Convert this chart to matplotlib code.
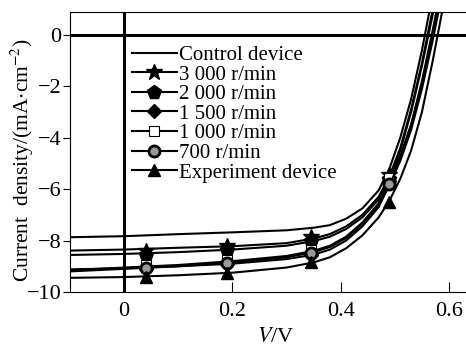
import numpy as np
import matplotlib
matplotlib.use("Agg")
from matplotlib import pyplot as plt

# J-V curves
volts = [-0.1, 0.0, 0.1, 0.2, 0.3, 0.35, 0.38, 0.41, 0.44, 0.47, 0.49, 0.51, 0.53, 0.55, 0.57, 0.59]
j_control = [-7.87, -7.83, -7.75, -7.68, -7.60, -7.50, -7.40, -7.15, -6.75, -6.05, -5.2, -4.0, -2.5, -0.6, 1.6, 3.5]
j_3000 = [-8.39, -8.35, -8.28, -8.22, -8.10, -7.92, -7.75, -7.45, -7.0, -6.3, -5.5, -4.4, -2.9, -1.1, 1.0, 3.0]
j_2000 = [-8.56, -8.52, -8.45, -8.35, -8.20, -8.02, -7.85, -7.55, -7.1, -6.4, -5.6, -4.5, -3.0, -1.2, 0.8, 2.8]
j_1500 = [-9.12, -9.08, -9.00, -8.90, -8.72, -8.55, -8.35, -8.0, -7.45, -6.7, -5.8, -4.8, -3.5, -1.8, 0.2, 2.3]
j_1000 = [-9.15, -9.05, -8.95, -8.80, -8.60, -8.40, -8.20, -7.85, -7.3, -6.55, -5.6, -4.7, -3.5, -1.9, 0.0, 2.1]
j_700 = [-9.20, -9.10, -9.00, -8.85, -8.65, -8.45, -8.25, -7.9, -7.4, -6.65, -5.85, -4.9, -3.7, -2.1, -0.2, 1.9]
j_exp = [-9.45, -9.42, -9.35, -9.25, -9.05, -8.85, -8.65, -8.3, -7.8, -7.1, -6.45, -5.6, -4.5, -3.0, -1.0, 1.2]

# marker positions
mark_v = [0.04, 0.19, 0.345, 0.49]
m_3000 = [-8.40, -8.22, -7.85, -5.45]
m_2000 = [-8.55, -8.35, -8.00, -5.60]
m_1500 = [-9.10, -8.90, -8.55, -5.70]
m_1000 = [-8.95, -8.75, -8.37, -5.55]
m_700 = [-9.07, -8.87, -8.48, -5.80]
m_exp = [-9.40, -9.25, -8.82, -6.50]

labels = ['Control device', '3 000 r/min', '2 000 r/min', '1 500 r/min',
          '1 000 r/min', '700 r/min', 'Experiment device']

plt.rcParams['font.family'] = ['Liberation Serif', 'DejaVu Serif']
plt.rcParams['mathtext.fontset'] = 'stix'
plt.rcParams['axes.unicode_minus'] = True

fig = plt.figure(figsize=(4.66, 3.48), dpi=100)
ax = fig.add_axes([0.150, 0.161, 0.86, 0.805])

curves = [j_control, j_3000, j_2000, j_1500, j_1000, j_700, j_exp]
marks = [None, m_3000, m_2000, m_1500, m_1000, m_700, m_exp]
styles = [None,
          dict(marker='*', ms=12, mfc='k'),
          dict(marker='p', ms=10, mfc='k'),
          dict(marker='D', ms=7, mfc='k'),
          dict(marker='s', ms=7, mfc='white', mew=0.8),
          dict(marker='o', ms=8, mfc='0.6', mew=2),
          dict(marker='^', ms=9, mfc='k')]

handles = []
for j, m, st, lab in zip(curves, marks, styles, labels):
    ax.plot(volts, j, color='k', lw=1.5)
    if m is not None:
        ax.plot(mark_v, m, ls='none', mec='k', **st)
        h, = ax.plot([], [], color='k', lw=1.5, mec='k', **st)
    else:
        h, = ax.plot([], [], color='k', lw=1.5)
    handles.append(h)

ax.axhline(0, color='k', lw=2.2)
ax.axvline(0, color='k', lw=2.2)

ax.set_xlim(-0.1, 0.64)
ax.set_ylim(-10, 0.9)
ax.set_xticks([0, 0.2, 0.4, 0.6])
ax.set_xticklabels(['0', '0.2', '0.4', '0.6'])
ax.set_yticks([0, -2, -4, -6, -8, -10])
ax.set_yticklabels(['0', '\u22122', '\u22124', '\u22126', '\u22128', '\u221210'])
ax.tick_params(axis='x', direction='in', length=7, labelsize=16, pad=7)
ax.tick_params(axis='y', direction='out', length=5, labelsize=16, pad=1)
ax.spines['right'].set_visible(False)

ax.set_xlabel('$V$/V', fontsize=16)
ax.xaxis.set_label_coords(0.515, -0.13)
ax.set_ylabel('Current  density/(mA$\\cdot$cm$^{-2}$)', fontsize=15.5)
ax.yaxis.set_label_coords(-0.085, 0.47)

ax.legend(handles, labels, loc='upper left', bbox_to_anchor=(0.155, 0.88),
          frameon=False, fontsize=15, handlelength=2.15, handletextpad=0.1,
          labelspacing=0.0, borderpad=0, borderaxespad=0)

fig.savefig('out.png', dpi=100)
